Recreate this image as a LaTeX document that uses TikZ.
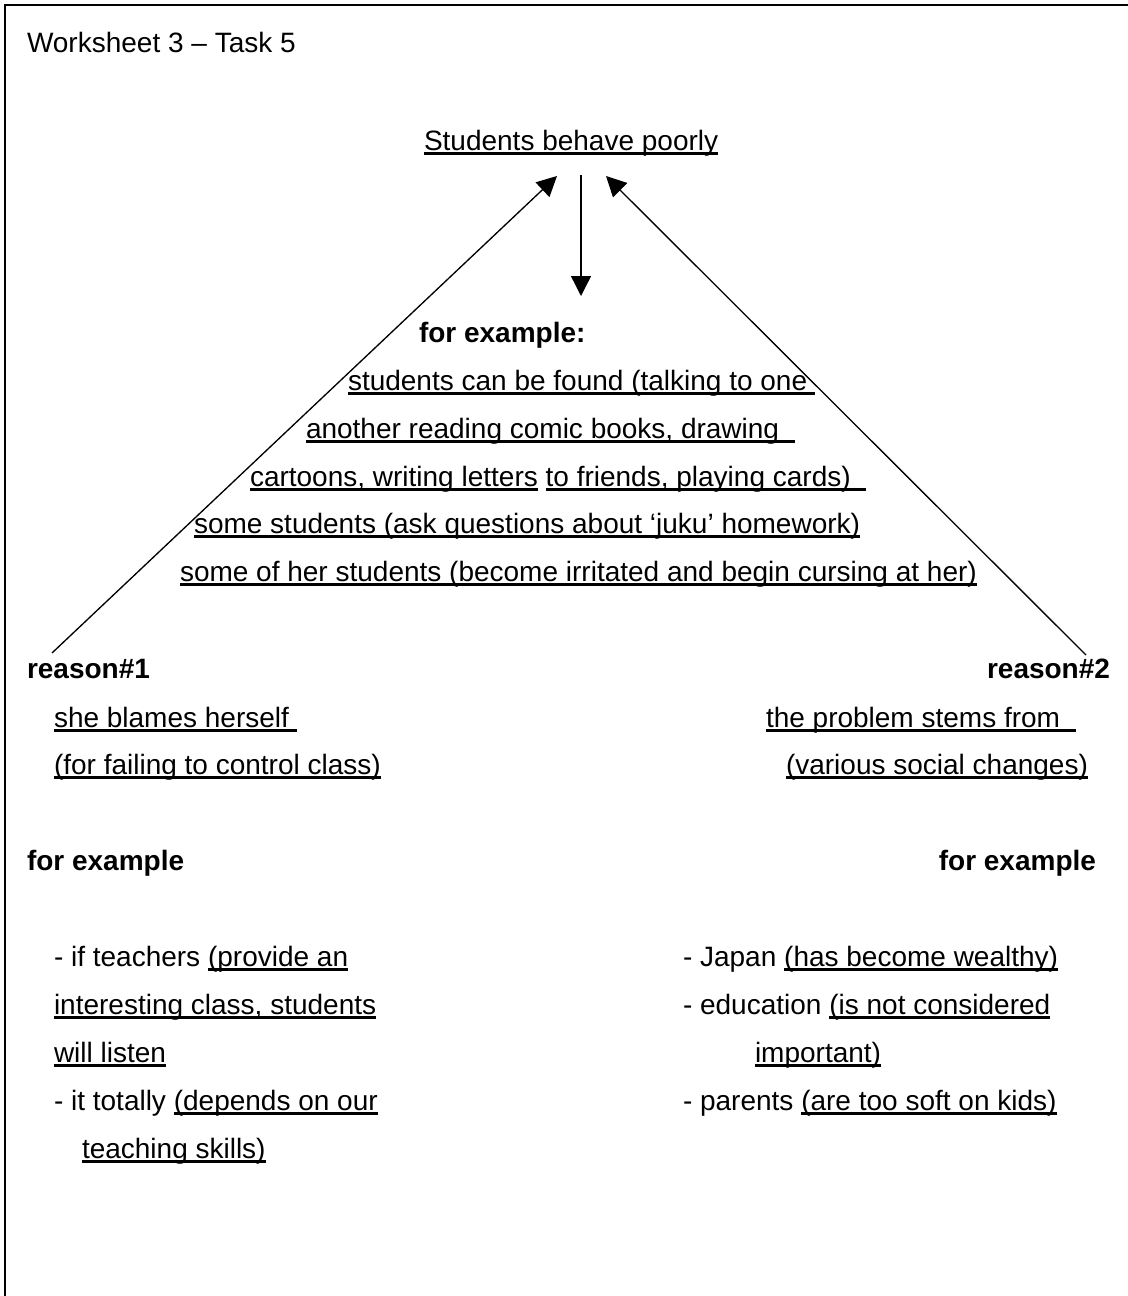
\documentclass[tikz,border=0pt]{standalone}
\usepackage{fontspec}
\setmainfont{Liberation Sans}
\usetikzlibrary{arrows.meta}
% underline at a fixed depth below the baseline, through descenders
\newcommand\undl[1]{\setbox0\hbox{#1}\rlap{\rule[-0.17em]{\wd0}{0.1em}}\box0\relax}
\begin{document}
\begin{tikzpicture}[x=0.75pt,y=-0.75pt,
  txt/.style={anchor=base west,inner sep=0pt,outer sep=0pt,font=\fontsize{21}{25}\selectfont},
  txtr/.style={txt,anchor=base east},
  bld/.style={txt,font=\fontsize{21}{25}\selectfont\bfseries},
  bldr/.style={bld,anchor=base east},
  link/.style={line width=1pt,-{Triangle[length=15pt,width=15pt]}}]
\fill[white] (0,0) rectangle (1128,1296);
\useasboundingbox (0,0) rectangle (1128,1296);
% page frame (runs off the right and lower edges)
\draw[line width=1.5pt] (1140,5) -- (5,5) -- (5,1310);

% heading and central statement
\node[txt] (head) at (27,52) {Worksheet 3 – Task 5};
\node[txt] (claim) at (424,150) {\undl{Students behave poorly}};

% examples of the behaviour
\node[bld] (ex0) at (419,342) {for example:};
\node[txt] (ex1) at (348,390) {\undl{students can be found (talking to one\ }};
\node[txt] (ex2) at (306,438) {\undl{another reading comic books, drawing\ \ }};
\node[txt] (ex3) at (250,486) {\undl{cartoons, writing letters} \undl{to friends, playing cards)\ \ }};
\node[txt] (ex4) at (194,533) {\undl{some students (ask questions about ‘juku’ homework)}};
\node[txt] (ex5) at (180,581) {\undl{some of her students (become irritated and begin cursing at her)}};

% reason 1
\node[bld] (r1) at (27,678) {reason\#1};
\node[txt] (r1a) at (54,727) {\undl{she blames herself\ }};
\node[txt] (r1b) at (54,774) {\undl{(for failing to control class)}};
\node[bld] (r1ex) at (27,870) {for example};
\node[txt] (r1c) at (54,966) {- if teachers \undl{(provide an}};
\node[txt] (r1d) at (54,1014) {\undl{interesting class, students}};
\node[txt] (r1e) at (54,1062) {\undl{will listen}};
\node[txt] (r1f) at (54,1110) {- it totally \undl{(depends on our}};
\node[txt] (r1g) at (82,1158) {\undl{teaching skills)}};

% reason 2
\node[bldr] (r2) at (1110,678) {reason\#2};
\node[txt] (r2a) at (766,727) {\undl{the problem stems from\ \ }};
\node[txt] (r2b) at (786,774) {\undl{(various social changes)}};
\node[bldr] (r2ex) at (1096,870) {for example};
\node[txt] (r2c) at (683,966) {- Japan \undl{(has become wealthy)}};
\node[txt] (r2d) at (683,1014) {- education \undl{(is not considered}};
\node[txt] (r2e) at (755,1062) {\undl{important)}};
\node[txt] (r2f) at (683,1110) {- parents \undl{(are too soft on kids)}};

% connector ends
\coordinate (r1tail) at (52,653);
\coordinate (r2tail) at (1086,655);
\coordinate (tipL) at (557,176);
\coordinate (tipR) at (606,176);
\coordinate (downtop) at (581,175);
\coordinate (downtip) at (581,296);

\draw[link] (r1tail) -- (tipL);
\draw[link] (r2tail) -- (tipR);
\draw[link] (downtop) -- (downtip);
\end{tikzpicture}
\end{document}
